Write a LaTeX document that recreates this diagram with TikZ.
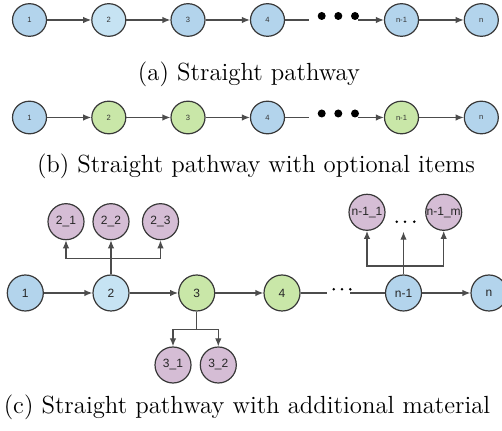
\documentclass[tikz,border=0pt]{standalone}
\usepackage{fontspec}
\newfontfamily\labfont{Liberation Sans}
\usetikzlibrary{shapes.geometric,arrows.meta}
\definecolor{nblue}{HTML}{B3D4EC}
\definecolor{nlblue}{HTML}{C6E3F3}
\definecolor{ngreen}{HTML}{C9E7A8}
\definecolor{npurple}{HTML}{D5BDD5}
\definecolor{edgecol}{HTML}{383838}
\begin{document}
\begin{tikzpicture}[x=0.5pt,y=-0.5pt,
  smallnode/.style={ellipse,draw=edgecol,line width=0.6pt,minimum width=17pt,minimum height=16.3pt,
    inner sep=0pt,font=\labfont\fontsize{3.8}{4}\selectfont,text=black!80},
  bignode/.style={circle,draw=edgecol,line width=0.6pt,minimum size=18pt,
    inner sep=0pt,font=\labfont\fontsize{6}{7}\selectfont,text=black!85},
  link/.style={draw=edgecol!90,line width=0.6pt},
  arr/.style={link,-{Latex[length=4pt,width=3.2pt]}},
  bigdot/.style={circle,fill=black,minimum size=4pt,inner sep=0pt},
  tinydot/.style={circle,fill=black,minimum size=1.4pt,inner sep=0pt},
  captext/.style={font=\fontsize{12.4}{15}\selectfont}]
\useasboundingbox (0,0) rectangle (502,431);

% (a) straight pathway
\node[smallnode,fill=nblue]  (a1)  at (29.5,20)  {1};
\node[smallnode,fill=nlblue] (a2)  at (108.8,20) {2};
\node[smallnode,fill=nblue]  (a3)  at (188,20)   {3};
\node[smallnode,fill=nblue]  (a4)  at (267.5,20) {4};
\node[smallnode,fill=nblue]  (an1) at (401.5,20) {n-1};
\node[smallnode,fill=nblue]  (an)  at (481.3,20) {n};
\node[bigdot] (ad1) at (321.7,16) {};
\node[bigdot] (ad2) at (338.3,16) {};
\node[bigdot] (ad3) at (355,16) {};
\coordinate (ae) at (309,20);
\coordinate (as) at (358,20);
\draw[arr] (a1) -- (a2);
\draw[arr] (a2) -- (a3);
\draw[arr] (a3) -- (a4);
\draw[link] (a4) -- (ae);
\draw[arr] (as) -- (an1);
\draw[arr] (an1) -- (an);
\node[captext] (capa) at (249,74) {(a) Straight pathway};

% (b) straight pathway with optional items
\node[smallnode,fill=nblue]  (b1)  at (29.5,117.5)  {1};
\node[smallnode,fill=ngreen] (b2)  at (108.8,117.5) {2};
\node[smallnode,fill=ngreen] (b3)  at (188,117.5)   {3};
\node[smallnode,fill=nblue]  (b4)  at (267.5,117.5) {4};
\node[smallnode,fill=ngreen] (bn1) at (401.5,117.5) {n-1};
\node[smallnode,fill=nblue]  (bn)  at (481.3,117.5) {n};
\node[bigdot] (bd1) at (321.7,113.5) {};
\node[bigdot] (bd2) at (338.3,113.5) {};
\node[bigdot] (bd3) at (355,113.5) {};
\coordinate (be) at (309,117.5);
\coordinate (bs) at (358,117.5);
\draw[arr] (b1) -- (b2);
\draw[arr] (b2) -- (b3);
\draw[arr] (b3) -- (b4);
\draw[link] (b4) -- (be);
\draw[arr] (bs) -- (bn1);
\draw[arr] (bn1) -- (bn);
\node[captext] (capb) at (256,166) {(b) Straight pathway with optional items};

% (c) straight pathway with additional material
\node[bignode,fill=nblue]  (c1)  at (25.3,293)  {1};
\node[bignode,fill=nlblue] (c2)  at (111,293)   {2};
\node[bignode,fill=ngreen] (c3)  at (196.7,293) {3};
\node[bignode,fill=ngreen] (c4)  at (282,293)   {4};
\node[bignode,fill=nblue]  (cn1) at (403.5,293) {n-1};
\node[bignode,fill=nblue]  (cn)  at (489,293)   {n};

\node[bignode,fill=npurple] (p21) at (66,221.7)    {2\_1};
\node[bignode,fill=npurple] (p22) at (111,221.7)   {2\_2};
\node[bignode,fill=npurple] (p23) at (160.5,221.7) {2\_3};
\node[bignode,fill=npurple] (p31) at (173,365)     {3\_1};
\node[bignode,fill=npurple] (p32) at (218.3,365)   {3\_2};
\node[bignode,fill=npurple] (pn1) at (367,212.3)   {n-1\_1};
\node[bignode,fill=npurple] (pnm) at (443.7,212.3) {n-1\_m};

\node[tinydot] (cd1) at (333.7,289.3) {};
\node[tinydot] (cd2) at (342,289.3) {};
\node[tinydot] (cd3) at (350.3,289.3) {};
\node[tinydot] (ud1) at (396.7,221.7) {};
\node[tinydot] (ud2) at (405,221.7) {};
\node[tinydot] (ud3) at (414.3,221.7) {};

\coordinate (ce) at (327,293);
\coordinate (cs) at (350,293);
\draw[arr] (c1) -- (c2);
\draw[arr] (c2) -- (c3);
\draw[arr] (c3) -- (c4);
\draw[link] (c4) -- (ce);
\draw[link] (cs) -- (cn1);
\draw[arr] (cn1) -- (cn);

% branches above node 2
\coordinate (k2) at (111,258.3);
\draw[arr] (c2) -- (p22);
\draw[arr] (k2) -| (p21);
\draw[arr] (k2) -| (p23);

% branches below node 3
\coordinate (k3) at (196.7,329.3);
\draw[link] (c3) -- (k3);
\draw[arr] (k3) -| (p31);
\draw[arr] (k3) -| (p32);

% branches above node n-1
\coordinate (kn) at (403.5,266);
\coordinate (mtop) at (403.5,231.7);
\draw[arr] (cn1) -- (mtop);
\draw[arr] (kn) -| (pn1);
\draw[arr] (kn) -| (pnm);

\node[captext] (capc) at (247,407) {(c) Straight pathway with additional material};
\end{tikzpicture}
\end{document}
